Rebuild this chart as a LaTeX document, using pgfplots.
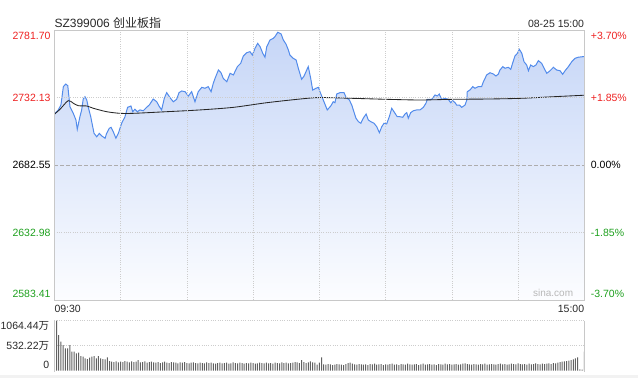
\documentclass[border=0pt]{standalone}
\usepackage{pgfplots}
\usepackage{pgfplotstable}
\pgfplotsset{compat=1.18}
\usepackage{fontspec}
\setmainfont{Liberation Sans}
\newfontfamily\cjk{Noto Sans CJK SC}
\definecolor{sred}{RGB}{238,34,34}
\definecolor{sgreen}{RGB}{30,160,30}
\definecolor{sblue}{RGB}{82,139,235}
\definecolor{sfillt}{RGB}{198,214,247}
\definecolor{sfillb}{RGB}{252,253,255}
\definecolor{sframe}{RGB}{200,200,200}
\definecolor{sgrid}{RGB}{205,205,205}
\definecolor{stext}{RGB}{40,40,40}
\newcommand{\lab}{\fontsize{10.5bp}{12bp}\selectfont}

\pgfplotstableread{
m p
0 2719.8
1.8 2723.0
3.0 2726.6
4.1 2740.1
5.2 2742.0
6.1 2740.8
7.1 2725.4
8.6 2720.5
9.8 2715.6
10.4 2708.8
11.6 2718.0
12.4 2723.0
13.1 2731.0
13.9 2732.7
14.7 2730.3
15.4 2724.9
16.5 2718.0
18.0 2705.8
19.2 2703.3
20.4 2705.8
21.5 2703.9
23.0 2702.2
23.7 2705.8
24.9 2709.5
25.7 2710.2
26.7 2707.0
27.9 2702.2
29.0 2705.8
30.5 2713.2
32.0 2718.0
33.2 2724.9
34.7 2725.9
35.5 2721.7
36.5 2723.5
37.6 2721.7
38.8 2723.0
40.3 2722.4
41.8 2724.9
43.0 2726.6
44.8 2731.0
46.4 2729.0
47.4 2725.9
48.6 2723.0
49.8 2731.5
50.9 2735.7
52.4 2732.0
53.9 2729.0
55.4 2730.8
56.5 2735.7
57.7 2736.9
59.2 2736.4
60.7 2733.2
62.2 2736.4
63.7 2729.0
65.2 2736.4
66.8 2739.6
68.2 2738.9
69.7 2740.1
71.0 2736.4
72.0 2742.6
72.8 2746.2
74.3 2752.3
75.5 2750.3
76.5 2746.2
78.1 2743.7
79.6 2749.9
81.1 2748.7
82.9 2754.8
84.4 2757.2
85.6 2762.6
87.1 2765.0
88.6 2765.8
89.7 2763.3
90.9 2768.3
92.1 2771.9
93.2 2769.4
94.4 2764.6
95.4 2761.7
96.2 2769.4
97.7 2774.4
99.2 2775.6
99.9 2776.8
101.2 2780.0
102.7 2778.8
103.7 2774.4
104.9 2771.4
106.0 2767.0
106.7 2763.3
108.2 2760.9
109.5 2759.7
110.5 2753.6
112.0 2745.5
113.1 2747.9
114.3 2752.3
115.0 2754.8
116.1 2746.2
117.0 2737.6
118.5 2738.9
119.6 2739.6
120.3 2736.4
121.8 2730.3
123.6 2723.0
125.2 2725.9
126.3 2729.0
127.1 2728.3
127.9 2734.7
129.4 2735.7
131.2 2735.7
132.1 2732.3
133.6 2730.3
134.7 2726.6
135.4 2723.0
136.6 2716.9
137.7 2714.4
138.8 2713.2
139.9 2716.9
141.2 2720.0
142.2 2715.6
143.3 2714.4
144.8 2713.2
146.0 2710.7
147.2 2706.3
148.3 2710.7
149.3 2713.2
150.5 2712.7
151.7 2718.0
152.8 2724.2
154.3 2720.5
155.3 2718.0
156.5 2718.0
157.8 2717.6
158.8 2720.0
159.6 2721.0
160.3 2716.9
161.4 2721.0
162.6 2722.4
164.1 2723.0
165.6 2723.0
167.1 2724.9
168.3 2727.9
168.9 2730.8
170.9 2730.8
172.4 2734.0
173.4 2733.2
174.3 2734.7
175.4 2730.8
176.9 2731.5
178.4 2730.8
179.5 2728.3
180.4 2729.8
181.5 2728.3
182.2 2726.6
183.4 2726.6
184.5 2724.9
186.0 2726.6
186.8 2730.3
187.0 2736.4
188.2 2737.6
189.5 2740.1
190.5 2738.9
192.0 2740.1
193.5 2740.1
194.3 2743.7
195.8 2748.7
197.3 2750.3
198.8 2749.4
200.0 2747.9
201.1 2749.4
201.8 2752.3
203.1 2754.8
204.1 2753.6
205.6 2754.3
206.7 2752.8
207.6 2757.7
208.6 2762.6
209.7 2764.6
210.6 2767.5
211.7 2764.6
212.7 2758.4
213.9 2756.0
214.7 2751.8
215.7 2756.0
216.9 2754.8
218.1 2756.0
219.2 2759.2
220.7 2757.2
221.8 2753.6
223.0 2749.9
224.5 2751.8
226.0 2754.3
227.5 2752.3
229.0 2751.8
230.2 2749.2
231.3 2751.8
232.8 2754.8
234.3 2758.4
235.8 2760.9
237.3 2761.7
239.3 2762.1
240 2762.2
}\price

\pgfplotstableread{
m p
0 2719.8
2.6 2723.5
6.3 2729.8
8.6 2727.9
10.9 2726.1
14.7 2725.9
17.7 2724.2
23.7 2721.7
29.8 2720.5
35.8 2720.5
50.9 2721.7
66.0 2723.0
81.1 2724.9
96.2 2728.3
111.3 2731.0
120.3 2732.1
135.4 2731.5
150.5 2730.8
165.6 2730.3
180.7 2730.8
195.8 2731.0
210.9 2731.5
226.0 2732.7
240 2733.8
}\avgline

\begin{document}
\begin{tikzpicture}
\useasboundingbox (0bp,0bp) rectangle (638bp,378bp);
\fill[black!5] (0bp,0bp) rectangle (638bp,2.5bp);

% ---------------- price panel ----------------
\begin{axis}[
  at={(54.3bp,78bp)}, anchor=south west,
  scale only axis, width=530bp, height=270bp,
  xmin=0, xmax=240, ymin=2583.41, ymax=2781.70,
  xtick={30,60,...,210}, ytick={2632.98,2732.13},
  xticklabels={}, yticklabels={},
  major tick length=0pt,
  xmajorgrids, ymajorgrids,
  grid style={sgrid, dash pattern=on 1bp off 1.3bp, line width=0.5bp},
  axis line style={sframe, line width=0.8bp},
  axis on top,
  clip mode=individual,
]
\addplot[draw=none, top color=sfillt, bottom color=sfillb, forget plot] table[x=m,y=p]{\price} -- (axis cs:240,2583.41) -- (axis cs:0,2583.41) -- cycle;
\addplot[sblue, line width=1bp] table[x=m,y=p]{\price};
\addplot[black!85, line width=0.85bp, smooth] table[x=m,y=p]{\avgline};
\draw[black!32, dash pattern=on 4bp off 2bp, line width=0.5bp] (axis cs:0,2682.55) -- (axis cs:240,2682.55);

\begin{scope}[every node/.style={inner sep=0pt, font=\lab}]
\node[anchor=east, text=sred, xshift=-3.6bp, yshift=-6bp] at (axis cs:0,2781.70) {2781.70};
\node[anchor=east, text=sred, xshift=-3.6bp] at (axis cs:0,2732.13) {2732.13};
\node[anchor=east, text=black, xshift=-3.6bp] at (axis cs:0,2682.55) {2682.55};
\node[anchor=east, text=sgreen, xshift=-3.6bp] at (axis cs:0,2632.98) {2632.98};
\node[anchor=east, text=sgreen, xshift=-3.6bp, yshift=6.3bp] at (axis cs:0,2583.41) {2583.41};
\node[anchor=west, text=sred, xshift=6.4bp, yshift=-6bp] at (axis cs:240,2781.70) {+3.70\%};
\node[anchor=west, text=sred, xshift=6.4bp] at (axis cs:240,2732.13) {+1.85\%};
\node[anchor=west, text=black, xshift=6.4bp] at (axis cs:240,2682.55) {0.00\%};
\node[anchor=west, text=sgreen, xshift=6.4bp] at (axis cs:240,2632.98) {-1.85\%};
\node[anchor=west, text=sgreen, xshift=6.4bp, yshift=6bp] at (axis cs:240,2583.41) {-3.70\%};
\end{scope}
\end{axis}

% ---------------- volume panel ----------------
\begin{axis}[
  at={(54.3bp,6.3bp)}, anchor=south west,
  scale only axis, width=530bp, height=51bp,
  xmin=0, xmax=240, ymin=-21.3, ymax=1064.44,
  xtick=\empty, ytick={532.22,1064.44}, yticklabels={},
  major tick length=0pt,
  ymajorgrids,
  grid style={sgrid, dash pattern=on 1bp off 1.3bp, line width=0.5bp},
  axis line style={draw=none},
  clip mode=individual,
]
\addplot[ybar, bar width=1bp, fill=black!62, draw=none] coordinates {
(0,262)(1,1064)(2,760)(3,617)(4,546)(5,475)(6,475)(7,546)(8,404)(9,404)
(10,369)(11,383)(12,312)(13,298)(14,262)(15,248)(16,277)(17,298)(18,312)(19,262)
(20,312)(21,262)(22,248)(23,241)(24,284)(25,206)
(26,192)(27,185)(28,199)(29,178)(30,192)(31,185)(32,206)(33,192)(34,178)(35,199)
(36,185)(37,192)(38,227)(39,178)(40,185)(41,199)(42,170)(43,185)(44,192)(45,178)
(46,170)(47,185)(48,163)(49,178)(50,192)(51,170)(52,163)(53,185)(54,178)(55,170)
(56,156)(57,178)(58,170)(59,185)(60,163)(61,156)(62,170)(63,178)(64,163)(65,156)
(66,170)(67,163)(68,156)(69,178)(70,163)(71,170)(72,156)(73,149)(74,163)(75,170)
(76,156)(77,163)(78,170)(79,149)(80,156)(81,178)(82,163)(83,156)(84,170)(85,163)
(86,149)(87,163)(88,156)(89,170)(90,163)(91,149)(92,156)(93,170)(94,163)(95,156)
(96,170)(97,156)(98,163)(99,149)(100,170)(101,163)(102,156)(103,178)(104,163)(105,170)
(106,156)(107,163)(108,170)(109,185)(110,178)(111,163)(112,227)(113,185)(114,163)(115,178)
(116,199)(117,178)(118,170)(119,130)(120,170)(121,284)
(122,135)(123,128)(124,142)(125,135)(126,121)(127,128)(128,142)(129,135)(130,128)(131,121)
(132,142)(133,163)(134,170)(135,149)(136,135)(137,128)(138,142)(139,135)(140,128)(141,135)
(142,121)(143,142)(144,135)(145,149)(146,128)(147,135)(148,142)(149,121)(150,135)(151,128)
(152,142)(153,149)(154,128)(155,135)(156,121)(157,142)(158,135)(159,128)(160,149)(161,135)
(162,128)(163,135)(164,142)(165,121)(166,135)(167,149)(168,128)(169,135)(170,142)(171,128)
(172,135)(173,121)(174,142)(175,135)(176,128)(177,149)(178,135)(179,142)(180,128)(181,135)
(182,142)(183,128)(184,135)(185,149)(186,156)(187,142)(188,135)(189,128)(190,142)(191,135)
(192,128)(193,142)(194,135)(195,149)(196,128)(197,135)(198,142)(199,135)(200,128)(201,142)
(202,149)(203,135)(204,142)(205,128)(206,135)(207,149)(208,142)(209,135)(210,156)(211,142)
(212,135)(213,142)(214,128)(215,149)(216,135)(217,142)(218,156)(219,142)(220,135)(221,149)
(222,142)(223,149)(224,156)(225,142)(226,163)(227,156)(228,170)(229,185)(230,192)(231,199)
(232,206)(233,213)(234,227)(235,241)(236,262)(237,284)(238,30)(239,25)(240,404)
};
\draw[sframe, line width=0.8bp] (rel axis cs:0,0) -- (rel axis cs:0,1);
\draw[sframe, line width=0.8bp] (rel axis cs:1,0) -- (rel axis cs:1,1);
\begin{scope}[every node/.style={inner sep=0pt, font=\lab, text=stext}]
\node[anchor=east, xshift=-5bp, yshift=-5bp] at (axis cs:0,1064.44) {1064.44{\cjk 万}};
\node[anchor=east, xshift=-5bp] at (axis cs:0,532.22) {532.22{\cjk 万}};
\node[anchor=east, xshift=-5bp, yshift=6bp] at (axis cs:0,0) {0};
\end{scope}
\end{axis}

% ---------------- texts ----------------
\node[anchor=base west, inner sep=0pt, text=stext, font=\fontsize{12bp}{14bp}\selectfont] at (54.3bp,350.7bp) {SZ399006 {\cjk 创业板指}};
\node[anchor=base east, inner sep=0pt, text=stext, font=\lab] at (584.3bp,350.7bp) {08-25 15:00};
\node[anchor=base west, inner sep=0pt, text=stext, font=\lab] at (54.3bp,65.3bp) {09:30};
\node[anchor=base east, inner sep=0pt, text=stext, font=\lab] at (584.3bp,65.3bp) {15:00};
\node[anchor=base east, inner sep=0pt, text=black!28, font=\fontsize{10bp}{12bp}\selectfont] at (573.3bp,81bp) {sina.com};
\end{tikzpicture}
\end{document}
